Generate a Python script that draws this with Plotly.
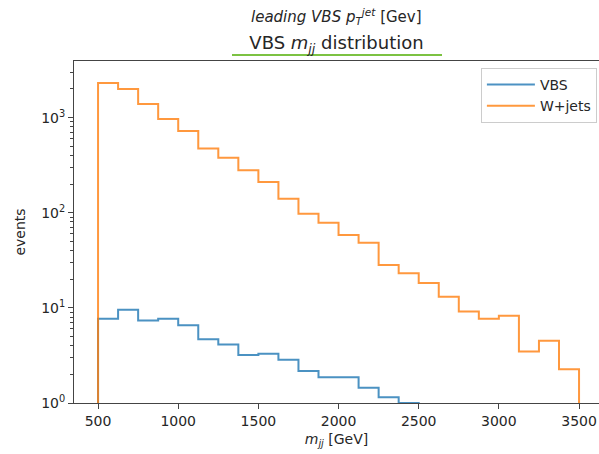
import plotly.graph_objects as go

# ---- data ----
bin_edges = [500, 625, 750, 875, 1000, 1125, 1250, 1375, 1500, 1625, 1750, 1875,
             2000, 2125, 2250, 2375, 2500, 2625, 2750, 2875, 3000, 3125, 3250, 3375, 3500]

wjets_counts = [2312, 2000, 1393, 969, 725, 474, 378, 279, 211, 140, 97.6, 78.5,
                58.4, 48.4, 28.3, 23.1, 18.3, 13.1, 9.15, 7.67, 8.24, 3.48, 4.5, 2.27]

vbs_counts = [7.67, 9.53, 7.36, 7.67, 6.58, 4.69, 4.12, 3.19, 3.29, 2.85, 2.17, 1.87,
              1.87, 1.45, 1.15, 1.0]   # bins above 2500 GeV are empty

y_tickvals = [1, 10, 100, 1000]
y_ticktext = ["10<sup>0</sup>", "10<sup>1</sup>", "10<sup>2</sup>", "10<sup>3</sup>"]
x_tickvals = [500, 1000, 1500, 2000, 2500, 3000, 3500]

FLOOR = 0.1  # below the visible axis range: makes the step outline drop to the axis


def step_outline(edges, counts):
    n = len(counts)
    xs = [edges[0]] + list(edges[:n]) + [edges[n]]
    ys = [FLOOR] + list(counts) + [FLOOR]
    return xs, ys


FONT = "DejaVu Sans"
BLUE = "#1f77b4"
ORANGE = "#ff7f0e"

fig = go.Figure()
for name, counts, color in [("VBS", vbs_counts, BLUE), ("W+jets", wjets_counts, ORANGE)]:
    xs, ys = step_outline(bin_edges, counts)
    fig.add_trace(go.Scatter(x=xs, y=ys, mode="lines", name=name,
                             line=dict(color=color, width=2, shape="hv"),
                             opacity=0.8))

minor_vals = [m * 10 ** d for d in range(0, 4) for m in range(2, 10)]

fig.update_layout(
    width=599, height=454,
    margin=dict(l=74, r=0, t=61, b=51),
    paper_bgcolor="white", plot_bgcolor="white",
    font=dict(family=FONT, size=14, color="#262626"),
    title=dict(text="VBS <i>m</i><sub><i>jj</i></sub> distribution",
               x=0.5, xref="paper", xanchor="center",
               y=1 - 43 / 454, yref="container", yanchor="middle",
               font=dict(family=FONT, size=18, color="#262626")),
    showlegend=True,
    legend=dict(x=0.996, y=0.98, xanchor="right", yanchor="top",
                bgcolor="rgba(255,255,255,0.8)", bordercolor="#cccccc", borderwidth=1,
                font=dict(family=FONT, size=14, color="#262626"),
                itemwidth=48, tracegroupgap=0),
    xaxis=dict(range=[350, 3624.5], tickvals=x_tickvals,
               showgrid=False, zeroline=False,
               showline=True, linecolor="#444444", linewidth=1, mirror=True,
               ticks="outside", ticklen=5, tickwidth=1, tickcolor="#444444",
               tickfont=dict(family=FONT, size=14, color="#262626"),
               title=dict(text="<i>m</i><sub><i>jj</i></sub> [GeV]", standoff=6,
                          font=dict(family=FONT, size=14, color="#262626"))),
    yaxis=dict(type="log", range=[0, 3.595],
               tickmode="array", tickvals=y_tickvals, ticktext=y_ticktext,
               showgrid=False, zeroline=False,
               showline=True, linecolor="#444444", linewidth=1, mirror=False,
               ticks="outside", ticklen=5, tickwidth=1, tickcolor="#444444",
               minor=dict(tickmode="array", tickvals=minor_vals, ticks="outside",
                          ticklen=3, tickwidth=1, tickcolor="#444444", showgrid=False),
               tickfont=dict(family=FONT, size=14, color="#262626"),
               title=dict(text="events", standoff=12,
                          font=dict(family=FONT, size=14, color="#262626"))),
    annotations=[dict(text="<i>leading VBS p</i><sub><i>T</i></sub><sup><i>jet</i></sup> [Gev]",
                      x=0.5, xref="paper", xanchor="center",
                      y=(403 - 17) / 342, yref="paper", yanchor="middle",
                      showarrow=False,
                      font=dict(family=FONT, size=15, color="#262626"))],
    shapes=[dict(type="line", xref="paper", yref="paper",
                 x0=(232 - 74) / 525, x1=(442 - 74) / 525,
                 y0=(403 - 55) / 342, y1=(403 - 55) / 342,
                 line=dict(color="#7cc242", width=2))],
)

fig.write_html("out.html")
